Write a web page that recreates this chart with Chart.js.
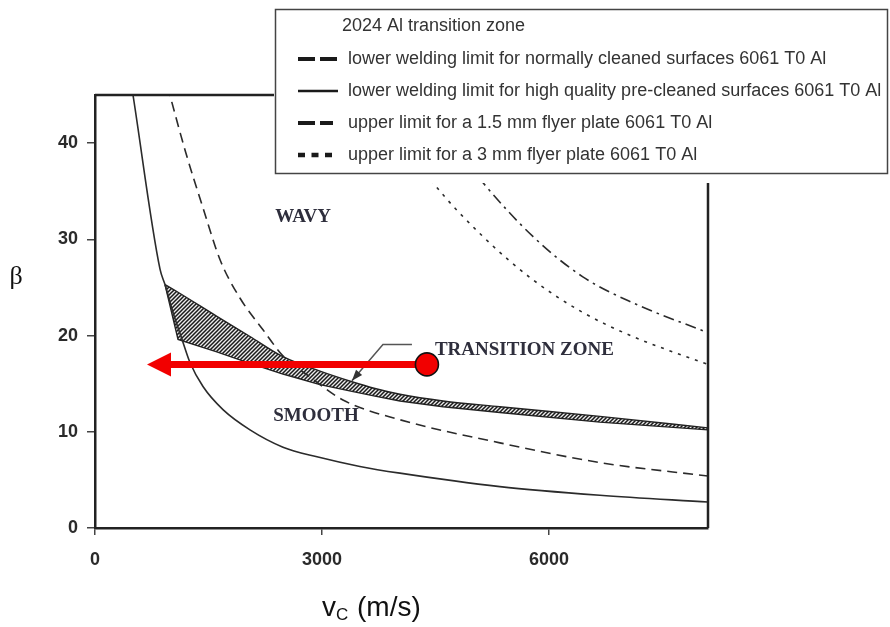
<!DOCTYPE html>
<html>
<head>
<meta charset="utf-8">
<script src="https://cdn.jsdelivr.net/npm/chart.js@4.4.1/dist/chart.umd.min.js"></script>
<style>
    html, body { margin:0; padding:0; background:#fff; }
    #wrap { width:890px; height:627px; }
</style>
</head>
<body>
<div id="wrap"><canvas id="chart" width="890" height="627"></canvas></div>
<script>
// ── Values: collision velocity v_C (m/s) vs beta ──
const xTicks = [0, 3000, 6000];
const yTicks = [0, 10, 20, 30, 40];

// lower welding limit, high quality pre-cleaned surfaces (solid)
const preCleanV = [470, 502, 859, 925, 1031, 1150, 1255, 1427, 1691, 2048, 2484, 2933, 3500, 4029, 5350, 6671, 8100];
const preCleanB = [46.6, 45, 26.9, 25.3, 22.4, 19.6, 17.2, 14.7, 12.3, 10.2, 8.4, 7.4, 6.4, 5.7, 4.3, 3.4, 2.7];

// lower welding limit, normally cleaned surfaces (dashed)
const normalV = [960, 990, 1200, 1430, 1651, 1915, 2220, 2483, 2840, 3276, 4030, 5350, 6671, 8100];
const normalB = [45.9, 45, 39.0, 33.2, 27.9, 23.9, 20.6, 17.9, 15.7, 13.3, 11.25, 8.85, 6.8, 5.4];

// upper limit, 1.5 mm flyer plate (dash-dot)
const flyer15V = [4300, 4700, 5125, 5786, 6446, 7107, 8100];
const flyer15B = [44.2, 40.2, 35.9, 30.3, 26.1, 23.4, 20.3];

// upper limit, 3 mm flyer plate (dotted)
const flyer3V = [3700, 4100, 4465, 5125, 5786, 6446, 7107, 8100];
const flyer3B = [44.6, 40.0, 35.9, 30.3, 25.8, 22.4, 19.9, 17.0];

// 2024 Al transition zone (hatched band)
const bandV     = [925, 1097, 1610, 2048, 2484, 2973, 3395, 3700, 4030, 4600, 5350, 6671, 8100];
const bandUpper = [25.3, 24.5, 22.0, 19.9, 17.8, 16.3, 15.2, 14.5, 13.9, 13.2, 12.6, 11.6, 10.4];
const bandLower = [25.3, 19.6, 18.3, 17.1, 16.0, 14.9, 14.2, 13.7, 13.2, 12.6, 12.0, 11.0, 10.2];

// red marker and arrow, grey leader of the zone label
const redArrowV = [4386, 687];
const redArrowB = [17.0, 17.0];
const leaderV = [4188, 3805, 3395];
const leaderB = [19.06, 19.06, 15.3];

const regionLabels = ['WAVY', 'SMOOTH', 'TRANSITION ZONE'];
const regionV = [2750, 2920, 4492];
const regionB = [32.3, 11.6, 18.5];

const legendLabels = [
    '2024 Al transition zone',
    'lower welding limit for normally cleaned surfaces 6061 T0 Al',
    'lower welding limit for high quality pre-cleaned surfaces 6061 T0 Al',
    'upper limit for a 1.5 mm flyer plate 6061 T0 Al',
    'upper limit for a 3 mm flyer plate 6061 T0 Al'
];

const SANS = "'Liberation Sans', Arial, sans-serif";
const SERIF = "'Liberation Serif', 'Times New Roman', serif";
const INK = '#2a2a2a';

const pts = (xs, ys) => xs.map((v, i) => ({ x: v, y: ys[i] }));

// ── hatch pattern for the transition zone ──
function makeHatch(ctx) {
    const p = document.createElement('canvas');
    p.width = p.height = 4;
    const c = p.getContext('2d');
    c.fillStyle = '#ececec'; c.fillRect(0, 0, 4, 4);
    c.strokeStyle = '#1a1a1a'; c.lineWidth = 1.5;
    c.beginPath();
    c.moveTo(-1, 5); c.lineTo(5, -1);
    c.moveTo(-1, 1); c.lineTo(1, -1);
    c.moveTo(3, 5); c.lineTo(5, 3);
    c.stroke();
    return ctx.createPattern(p, 'repeat');
}

function arrowHead(ctx, fx, fy, tx, ty, len, half, color) {
    const ang = Math.atan2(ty - fy, tx - fx);
    ctx.save();
    ctx.translate(tx, ty); ctx.rotate(ang);
    ctx.beginPath();
    ctx.moveTo(0, 0); ctx.lineTo(-len, -half); ctx.lineTo(-len, half); ctx.closePath();
    ctx.fillStyle = color; ctx.fill();
    ctx.restore();
}

const overlay = {
    id: 'overlay',
    afterDatasetsDraw(chart) {
        const { ctx, chartArea: a, scales: { x, y } } = chart;
        ctx.save();

        // frame top / right
        ctx.strokeStyle = '#222'; ctx.lineWidth = 2.5;
        ctx.beginPath();
        ctx.moveTo(a.left, a.top); ctx.lineTo(a.right, a.top); ctx.lineTo(a.right, a.bottom);
        ctx.stroke();

        // region labels
        ctx.font = 'bold 19px ' + SERIF;
        ctx.fillStyle = '#2e2e3c';
        ctx.textBaseline = 'middle';
        regionLabels.forEach((t, i) => {
            ctx.textAlign = i === 2 ? 'left' : 'center';
            ctx.fillText(t, x.getPixelForValue(regionV[i]), y.getPixelForValue(regionB[i]));
        });

        // grey leader arrow head
        const n = leaderV.length;
        arrowHead(ctx,
            x.getPixelForValue(leaderV[n - 2]), y.getPixelForValue(leaderB[n - 2]),
            x.getPixelForValue(leaderV[n - 1]), y.getPixelForValue(leaderB[n - 1]),
            11, 4, '#333');

        // red arrow + marker
        const tx0 = x.getPixelForValue(redArrowV[0]), ty0 = y.getPixelForValue(redArrowB[0]);
        const tx1 = x.getPixelForValue(redArrowV[1]), ty1 = y.getPixelForValue(redArrowB[1]);
        ctx.strokeStyle = '#f20000'; ctx.lineWidth = 7; ctx.lineCap = 'butt';
        ctx.beginPath(); ctx.moveTo(tx0, ty0); ctx.lineTo(tx1 + 20, ty1); ctx.stroke();
        arrowHead(ctx, tx0, ty0, tx1, ty1, 24, 12, '#f20000');
        ctx.beginPath(); ctx.arc(tx0, ty0, 11.5, 0, Math.PI * 2);
        ctx.fillStyle = '#f20000'; ctx.fill();
        ctx.strokeStyle = '#111'; ctx.lineWidth = 1.6; ctx.stroke();

        ctx.restore();
    },
    afterDraw(chart) {
        const ctx = chart.ctx;
        ctx.save();

        // legend box
        ctx.fillStyle = '#fff';
        ctx.fillRect(274, 8, 616, 175);
        ctx.strokeStyle = '#444'; ctx.lineWidth = 1.5;
        ctx.strokeRect(275.5, 9.5, 612, 164);

        const rowY = [26, 59, 91, 123, 155];
        const dashes = [null, [17, 5], [], [17, 5, 13, 60], [7, 6.5]];
        const widths = [0, 4, 2.5, 4, 4.5];
        ctx.font = '18px ' + SANS;
        ctx.textBaseline = 'middle';
        ctx.textAlign = 'left';
        legendLabels.forEach((t, i) => {
            if (dashes[i]) {
                ctx.strokeStyle = '#1a1a1a'; ctx.lineWidth = widths[i];
                ctx.setLineDash(dashes[i]);
                ctx.beginPath(); ctx.moveTo(298, rowY[i]); ctx.lineTo(338, rowY[i]); ctx.stroke();
                ctx.setLineDash([]);
            }
            ctx.fillStyle = '#333';
            ctx.fillText(t, i === 0 ? 342 : 348, rowY[i]);
        });

        // axis titles
        ctx.fillStyle = '#111';
        ctx.font = '26px ' + SERIF;
        ctx.textAlign = 'center';
        ctx.fillText('β', 16, 277);

        ctx.textAlign = 'left'; ctx.textBaseline = 'alphabetic';
        ctx.font = '28px ' + SANS;
        ctx.fillText('v', 322, 616);
        ctx.font = '17px ' + SANS;
        ctx.fillText('C', 336, 620);
        ctx.font = '28px ' + SANS;
        ctx.fillText('(m/s)', 357, 616);

        ctx.restore();
    }
};

const canvas = document.getElementById('chart');
const ctx = canvas.getContext('2d');
const hatch = makeHatch(ctx);

const curve = (label, xs, ys, dash) => ({
    label, data: pts(xs, ys), showLine: true,
    borderColor: '#2b2b2b', borderWidth: 1.6, borderDash: dash,
    pointRadius: 0, cubicInterpolationMode: 'monotone', fill: false
});

const chart = new Chart(ctx, {
    type: 'scatter',
    data: {
        datasets: [
            { label: 'leader', data: pts(leaderV, leaderB), showLine: true,
              borderColor: '#555', borderWidth: 1.5, pointRadius: 0, tension: 0 },
            curve(legendLabels[2], preCleanV, preCleanB, []),
            curve(legendLabels[1], normalV, normalB, [10, 6]),
            curve(legendLabels[3], flyer15V, flyer15B, [11, 5, 2.5, 5]),
            curve(legendLabels[4], flyer3V, flyer3B, [3, 6]),
            { label: legendLabels[0], data: pts(bandV, bandUpper), showLine: true,
              borderColor: '#222', borderWidth: 1.4, pointRadius: 0, cubicInterpolationMode: 'monotone',
              fill: '+1', backgroundColor: hatch },
            { label: 'zone lower', data: pts(bandV, bandLower), showLine: true,
              borderColor: '#222', borderWidth: 1.4, pointRadius: 0, tension: 0, fill: false }
        ]
    },
    options: {
        responsive: false,
        animation: false,
        layout: { padding: { top: 95, right: 182, left: 0, bottom: 0 } },
        plugins: {
            legend: { display: false },
            tooltip: { enabled: false },
            filler: { drawTime: 'beforeDatasetsDraw', propagate: false }
        },
        scales: {
            x: {
                type: 'linear', min: 0, max: 8100,
                afterBuildTicks: s => { s.ticks = xTicks.map(v => ({ value: v })); },
                afterFit: s => { s.height = 99; },
                grid: { display: true, drawOnChartArea: false, drawTicks: true, tickLength: 7, color: '#444', lineWidth: 1.5 },
                border: { display: true, color: '#222', width: 2.5 },
                ticks: { color: INK, padding: 14, font: { family: SANS, size: 18, weight: 'bold' }, callback: v => String(v) }
            },
            y: {
                type: 'linear', min: 0, max: 45,
                afterBuildTicks: s => { s.ticks = yTicks.map(v => ({ value: v })); },
                afterFit: s => { s.width = 95; },
                grid: { display: true, drawOnChartArea: false, drawTicks: true, tickLength: 8, color: '#444', lineWidth: 1.5 },
                border: { display: true, color: '#222', width: 2.5 },
                ticks: { color: INK, padding: 9, font: { family: SANS, size: 18, weight: 'bold' }, callback: v => String(v) }
            }
        }
    },
    plugins: [overlay]
});
</script>
</body>
</html>
